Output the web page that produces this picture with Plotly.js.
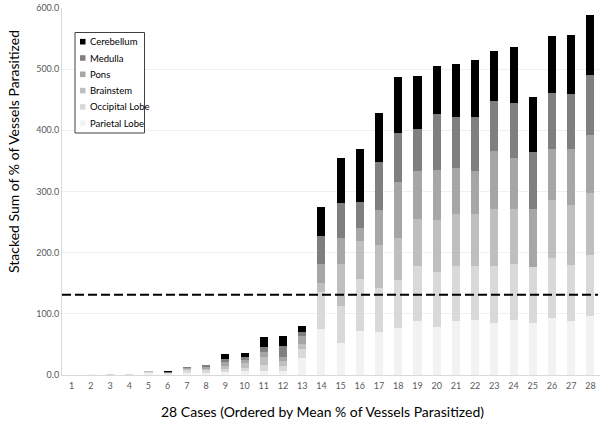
<!DOCTYPE html>
<html>
<head>
<meta charset="utf-8">
<script src="https://cdn.plot.ly/plotly-3.0.1.min.js"></script>
<style>
  html, body { margin: 0; padding: 0; background: #fff; }
  #grafico { width: 600px; height: 421px; }
</style>
</head>
<body>
<div id="grafico"></div>
<script>
const casos = ['1','2','3','4','5','6','7','8','9','10','11','12','13','14',
               '15','16','17','18','19','20','21','22','23','24','25','26','27','28'];

// valores (% de vasos parasitados por region)
const parietal  = [0, 1, 0.5, 0.8, 3, 1.5, 3, 3.5, 5.5, 6, 7, 7, 27, 75,
                   52, 72, 71, 77, 88, 78, 89, 90, 85.5, 89.4, 85.5, 93.7, 87.7, 96.4];
const occipital = [0, 1, 0.5, 0.7, 2.5, 1.5, 4.5, 4, 4.5, 5, 9.3, 8, 15, 60,
                   61.5, 85, 72, 78.5, 90, 90, 90, 88.7, 92.7, 92, 91.5, 98, 92, 99.6];
const brainstem = [0, 0, 0, 0.3, 0.5, 0.5, 2, 2.5, 5.5, 8, 12.7, 8, 9, 16,
                   68, 61.5, 70, 69, 77, 86, 85, 85, 93, 90, 0, 94, 98, 101];
const pons      = [0, 0, 0, 0.5, 0.5, 0.5, 1.5, 2.5, 5.5, 5.5, 8, 7, 13, 30,
                   43, 22, 57, 91, 79, 81.5, 75, 70, 95, 84, 95, 83.5, 92, 95.8];
const medulla   = [0, 0, 0.5, 0, 0, 0.5, 2.6, 3.8, 5.5, 4.5, 8, 17.4, 6, 46,
                   57, 42, 78, 80, 68, 92, 82, 87.5, 81, 89.7, 92, 91.5, 89, 97];
const cerebelo  = [0, 0, 0.8, 0, 0, 2, 0, 0, 8.5, 7, 16.5, 16.3, 10, 47,
                   73, 87, 80, 91, 87, 77.5, 87, 93, 82, 91.5, 90, 93, 97, 98.5];

const umbral = 131; // linea de referencia punteada

const series = [
    { nombre: 'Parietal Lobe',  valores: parietal,  color: '#f2f2f2' },
    { nombre: 'Occipital Lobe', valores: occipital, color: '#d9d9d9' },
    { nombre: 'Brainstem',      valores: brainstem, color: '#bfbfbf' },
    { nombre: 'Pons',           valores: pons,      color: '#a6a6a6' },
    { nombre: 'Medulla',        valores: medulla,   color: '#7f7f7f' },
    { nombre: 'Cerebellum',     valores: cerebelo,  color: '#000000' }
];

const fuente = 'Lato, "Open Sans", sans-serif';
const margen = { l: 62, r: 0, t: 8, b: 46 };
const ancho = 600, alto = 421;

// pixel -> coordenadas de papel
const px = x => (x - margen.l) / (ancho - margen.l - margen.r);
const py = y => (alto - margen.b - y) / (alto - margen.t - margen.b);

const data = series.map(s => ({
    type: 'bar',
    name: s.nombre,
    x: casos,
    y: s.valores,
    marker: { color: s.color, line: { width: 0 } },
    showlegend: false
}));

// leyenda dibujada a mano (caja, cuadritos y textos)
const shapes = [{
    type: 'rect', xref: 'paper', yref: 'paper',
    x0: px(75), x1: px(144.5), y0: py(133), y1: py(32.5),
    fillcolor: '#fff', line: { color: '#404040', width: 1 }
}];
const annotations = [];
series.slice().reverse().forEach((s, i) => {
    const yc = 41.7 + i * 16.3;
    shapes.push({
        type: 'rect', xref: 'paper', yref: 'paper',
        x0: px(80), x1: px(85.5), y0: py(yc + 2.8), y1: py(yc - 2.8),
        fillcolor: s.color, line: { width: 0 }
    });
    annotations.push({
        xref: 'paper', yref: 'paper', x: px(87.5), y: py(yc),
        xanchor: 'left', yanchor: 'middle', showarrow: false,
        text: s.nombre, font: { family: fuente, size: 9.5, color: '#000' }
    });
});

shapes.push({
    type: 'line', xref: 'paper', yref: 'y',
    x0: 0, x1: px(598), y0: umbral, y1: umbral,
    line: { color: '#000', width: 2, dash: '9px,4px' }
});

annotations.push({
    xref: 'paper', yref: 'paper', x: px(322.5), y: py(411),
    xanchor: 'center', yanchor: 'middle', showarrow: false,
    text: '28 Cases (Ordered by Mean % of Vessels Parasitized)',
    font: { family: fuente, size: 14, color: '#000' }
});
annotations.push({
    xref: 'paper', yref: 'paper', x: px(13), y: py(152),
    xanchor: 'center', yanchor: 'middle', showarrow: false, textangle: -90,
    text: 'Stacked Sum of % of Vessels Parasitized',
    font: { family: fuente, size: 14, color: '#000' }
});

const layout = {
    width: ancho,
    height: alto,
    margin: margen,
    paper_bgcolor: '#fff',
    plot_bgcolor: '#fff',
    barmode: 'stack',
    bargap: 0.58,
    font: { family: fuente, color: '#595959', size: 9 },
    xaxis: {
        type: 'category',
        showgrid: false,
        showline: true,
        linecolor: '#d9d9d9',
        linewidth: 1,
        ticks: '',
        ticklabelstandoff: 2,
        tickfont: { size: 9, color: '#595959' }
    },
    yaxis: {
        range: [0, 600],
        dtick: 100,
        tickformat: '.1f',
        showgrid: true,
        gridcolor: '#f0f0f0',
        gridwidth: 1,
        showline: true,
        linecolor: '#d9d9d9',
        zeroline: false,
        ticks: '',
        tickfont: { size: 9, color: '#595959' }
    },
    showlegend: false,
    shapes: shapes,
    annotations: annotations
};

Plotly.newPlot('grafico', data, layout, { displayModeBar: false, staticPlot: true });
</script>
</body>
</html>
